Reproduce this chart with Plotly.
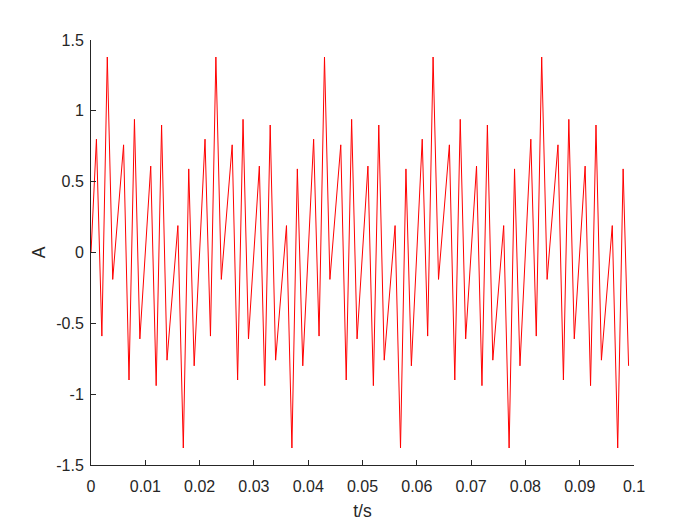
import plotly.graph_objects as go

# Sample times (s), 1 ms spacing, 100 samples
t = [round(i * 0.001, 3) for i in range(100)]

# Amplitude values
A = [
    0.00, 0.80, -0.59, 1.38, -0.19, 0.30, 0.76, -0.90, 0.94, -0.61,
    0.00, 0.61, -0.94, 0.90, -0.76, -0.30, 0.19, -1.38, 0.59, -0.80,
    0.00, 0.80, -0.59, 1.38, -0.19, 0.30, 0.76, -0.90, 0.94, -0.61,
    0.00, 0.61, -0.94, 0.90, -0.76, -0.30, 0.19, -1.38, 0.59, -0.80,
    0.00, 0.80, -0.59, 1.38, -0.19, 0.30, 0.76, -0.90, 0.94, -0.61,
    0.00, 0.61, -0.94, 0.90, -0.76, -0.30, 0.19, -1.38, 0.59, -0.80,
    0.00, 0.80, -0.59, 1.38, -0.19, 0.30, 0.76, -0.90, 0.94, -0.61,
    0.00, 0.61, -0.94, 0.90, -0.76, -0.30, 0.19, -1.38, 0.59, -0.80,
    0.00, 0.80, -0.59, 1.38, -0.19, 0.30, 0.76, -0.90, 0.94, -0.61,
    0.00, 0.61, -0.94, 0.90, -0.76, -0.30, 0.19, -1.38, 0.59, -0.80,
]

x_tickvals = [0, 0.01, 0.02, 0.03, 0.04, 0.05, 0.06, 0.07, 0.08, 0.09, 0.1]
x_ticktext = ["0", "0.01", "0.02", "0.03", "0.04", "0.05", "0.06", "0.07", "0.08", "0.09", "0.1"]
y_tickvals = [-1.5, -1, -0.5, 0, 0.5, 1, 1.5]
y_ticktext = ["-1.5", "-1", "-0.5", "0", "0.5", "1", "1.5"]

axcol = "#262626"
ff = "Liberation Sans, Arial, sans-serif"

fig = go.Figure()
fig.add_trace(go.Scatter(x=t, y=A, mode="lines",
                         line=dict(color="#ff0000", width=1),
                         showlegend=False, hoverinfo="skip"))

fig.update_layout(
    width=700, height=525,
    margin=dict(l=83, r=74, t=32, b=68, autoexpand=False),
    paper_bgcolor="white", plot_bgcolor="white",
    font=dict(family=ff, size=16, color=axcol),
)
fig.update_xaxes(
    range=[0, 0.1], tickvals=x_tickvals, ticktext=x_ticktext,
    showline=True, linecolor=axcol, linewidth=1, mirror=False,
    ticks="inside", ticklen=5, tickcolor=axcol, tickwidth=1,
    showgrid=False, zeroline=False, automargin=False,
    tickfont=dict(family=ff, size=16, color=axcol),
    ticklabelstandoff=7,
    title=dict(text="t/s", font=dict(family=ff, size=17.5, color=axcol), standoff=10),
)
fig.update_yaxes(
    range=[-1.5, 1.5], tickvals=y_tickvals, ticktext=y_ticktext,
    showline=True, linecolor=axcol, linewidth=1, mirror=False,
    ticks="inside", ticklen=5, tickcolor=axcol, tickwidth=1,
    showgrid=False, zeroline=False, automargin=False,
    tickfont=dict(family=ff, size=16, color=axcol),
    ticklabelstandoff=3,
    title=dict(text="A", font=dict(family=ff, size=17.5, color=axcol), standoff=6),
)

fig.write_html("out.html")
